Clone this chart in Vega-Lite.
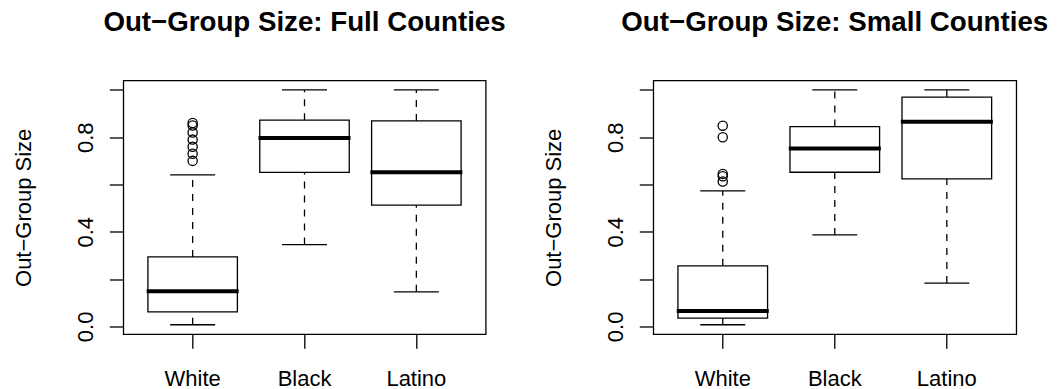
{
  "$schema": "https://vega.github.io/schema/vega-lite/v6.json",
  "background": "white",
  "padding": {"left": 11.3, "top": 8.5, "right": 0, "bottom": 0},
  "datasets": {
    "boxes": [
      {"panel": "Full", "group": "White", "lo": 0.007, "q1": 0.061, "med": 0.149, "q3": 0.294, "hi": 0.641},
      {"panel": "Full", "group": "Black", "lo": 0.346, "q1": 0.651, "med": 0.797, "q3": 0.872, "hi": 1.0},
      {"panel": "Full", "group": "Latino", "lo": 0.146, "q1": 0.513, "med": 0.652, "q3": 0.869, "hi": 1.0},
      {"panel": "Small", "group": "White", "lo": 0.007, "q1": 0.035, "med": 0.065, "q3": 0.256, "hi": 0.573},
      {"panel": "Small", "group": "Black", "lo": 0.387, "q1": 0.652, "med": 0.752, "q3": 0.845, "hi": 1.0},
      {"panel": "Small", "group": "Latino", "lo": 0.183, "q1": 0.624, "med": 0.865, "q3": 0.970, "hi": 1.0}
    ],
    "outliers": [
      {"panel": "Full", "group": "White", "value": 0.86},
      {"panel": "Full", "group": "White", "value": 0.85},
      {"panel": "Full", "group": "White", "value": 0.82},
      {"panel": "Full", "group": "White", "value": 0.79},
      {"panel": "Full", "group": "White", "value": 0.76},
      {"panel": "Full", "group": "White", "value": 0.73},
      {"panel": "Full", "group": "White", "value": 0.70},
      {"panel": "Small", "group": "White", "value": 0.849},
      {"panel": "Small", "group": "White", "value": 0.80},
      {"panel": "Small", "group": "White", "value": 0.645},
      {"panel": "Small", "group": "White", "value": 0.635},
      {"panel": "Small", "group": "White", "value": 0.613}
    ]
  },
  "hconcat": [
    {
      "title": {"text": "Out−Group Size: Full Counties", "frame": "group", "anchor": "middle", "baseline": "alphabetic", "offset": 21.5},
      "width": 362.4,
      "height": 253.7,
      "encoding": {
        "x": {"field": "group", "type": "nominal", "title": null,
              "scale": {"domain": ["White", "Black", "Latino"], "paddingInner": 0.2, "paddingOuter": 0.22}}
      },
      "layer": [
        {"data": {"name": "boxes"}, "transform": [{"filter": "datum.panel == 'Full'"}],
         "mark": {"type": "rule", "color": "black", "strokeWidth": 1.3, "strokeDash": [7, 7]},
         "encoding": {"y": {"field": "q3", "type": "quantitative"}, "y2": {"field": "hi"}}},
        {"data": {"name": "boxes"}, "transform": [{"filter": "datum.panel == 'Full'"}],
         "mark": {"type": "rule", "color": "black", "strokeWidth": 1.3, "strokeDash": [7, 7]},
         "encoding": {"y": {"field": "lo", "type": "quantitative"}, "y2": {"field": "q1"}}},
        {"data": {"name": "boxes"}, "transform": [{"filter": "datum.panel == 'Full'"}],
         "mark": {"type": "bar", "fill": "white", "stroke": "black", "strokeWidth": 1.3},
         "encoding": {"y": {"field": "q1", "type": "quantitative"}, "y2": {"field": "q3"}}},
        {"data": {"name": "boxes"}, "transform": [{"filter": "datum.panel == 'Full'"}],
         "mark": {"type": "tick", "color": "black", "size": 45, "thickness": 1.3, "opacity": 1},
         "encoding": {"y": {"field": "hi", "type": "quantitative"}}},
        {"data": {"name": "boxes"}, "transform": [{"filter": "datum.panel == 'Full'"}],
         "mark": {"type": "tick", "color": "black", "size": 45, "thickness": 1.3, "opacity": 1},
         "encoding": {"y": {"field": "lo", "type": "quantitative"}}},
        {"data": {"name": "boxes"}, "transform": [{"filter": "datum.panel == 'Full'"}],
         "mark": {"type": "tick", "color": "black", "size": 92, "thickness": 4, "opacity": 1},
         "encoding": {"y": {"field": "med", "type": "quantitative"}}},
        {"data": {"name": "outliers"}, "transform": [{"filter": "datum.panel == 'Full'"}],
         "mark": {"type": "point", "shape": "circle", "filled": false, "stroke": "black", "strokeWidth": 1.3, "size": 85, "opacity": 1},
         "encoding": {"y": {"field": "value", "type": "quantitative", "title": "Out−Group Size",
                            "scale": {"domain": [-0.033, 1.04], "nice": false, "zero": false}}}}
      ],
      "resolve": {"scale": {"y": "shared"}}
    },
    {
      "title": {"text": "Out−Group Size: Small Counties", "frame": "group", "anchor": "middle", "baseline": "alphabetic", "offset": 21.5},
      "width": 363,
      "height": 253.7,
      "encoding": {
        "x": {"field": "group", "type": "nominal", "title": null,
              "scale": {"domain": ["White", "Black", "Latino"], "paddingInner": 0.2, "paddingOuter": 0.22}}
      },
      "layer": [
        {"data": {"name": "boxes"}, "transform": [{"filter": "datum.panel == 'Small'"}],
         "mark": {"type": "rule", "color": "black", "strokeWidth": 1.3, "strokeDash": [7, 7]},
         "encoding": {"y": {"field": "q3", "type": "quantitative"}, "y2": {"field": "hi"}}},
        {"data": {"name": "boxes"}, "transform": [{"filter": "datum.panel == 'Small'"}],
         "mark": {"type": "rule", "color": "black", "strokeWidth": 1.3, "strokeDash": [7, 7]},
         "encoding": {"y": {"field": "lo", "type": "quantitative"}, "y2": {"field": "q1"}}},
        {"data": {"name": "boxes"}, "transform": [{"filter": "datum.panel == 'Small'"}],
         "mark": {"type": "bar", "fill": "white", "stroke": "black", "strokeWidth": 1.3},
         "encoding": {"y": {"field": "q1", "type": "quantitative"}, "y2": {"field": "q3"}}},
        {"data": {"name": "boxes"}, "transform": [{"filter": "datum.panel == 'Small'"}],
         "mark": {"type": "tick", "color": "black", "size": 45, "thickness": 1.3, "opacity": 1},
         "encoding": {"y": {"field": "hi", "type": "quantitative"}}},
        {"data": {"name": "boxes"}, "transform": [{"filter": "datum.panel == 'Small'"}],
         "mark": {"type": "tick", "color": "black", "size": 45, "thickness": 1.3, "opacity": 1},
         "encoding": {"y": {"field": "lo", "type": "quantitative"}}},
        {"data": {"name": "boxes"}, "transform": [{"filter": "datum.panel == 'Small'"}],
         "mark": {"type": "tick", "color": "black", "size": 92, "thickness": 4, "opacity": 1},
         "encoding": {"y": {"field": "med", "type": "quantitative"}}},
        {"data": {"name": "outliers"}, "transform": [{"filter": "datum.panel == 'Small'"}],
         "mark": {"type": "point", "shape": "circle", "filled": false, "stroke": "black", "strokeWidth": 1.3, "size": 85, "opacity": 1},
         "encoding": {"y": {"field": "value", "type": "quantitative", "title": "Out−Group Size",
                            "scale": {"domain": [-0.033, 1.04], "nice": false, "zero": false}}}}
      ],
      "resolve": {"scale": {"y": "shared"}}
    }
  ],
  "spacing": 167,
  "bounds": "flush",
  "config": {
    "view": {"stroke": "black", "strokeWidth": 1.3},
    "title": {"font": "Liberation Sans", "fontSize": 27.7, "fontWeight": "bold", "color": "black"},
    "axis": {
      "labelFont": "Liberation Sans", "labelFontSize": 22, "labelColor": "black",
      "titleFont": "Liberation Sans", "titleFontSize": 22, "titleFontWeight": "normal", "titleColor": "black",
      "tickColor": "black", "tickWidth": 1.3, "tickSize": 14, "domain": false, "grid": false,
      "labelOverlap": false, "labelFlush": false
    },
    "axisX": {"labelAngle": 0, "labelPadding": 37, "labelBaseline": "alphabetic", "labelAlign": "center"},
    "axisY": {
      "values": [0, 0.2, 0.4, 0.6, 0.8, 1.0],
      "labelExpr": "(datum.value == 0 || datum.value == 0.4 || datum.value == 0.8) ? format(datum.value, '.1f') : ''",
      "labelAngle": -90, "labelAlign": "center", "labelBaseline": "alphabetic", "labelPadding": 16.6,
      "titleAngle": -90, "titleAlign": "center", "titleBaseline": "alphabetic", "titleX": -92.5, "titleY": 126.85
    }
  }
}
